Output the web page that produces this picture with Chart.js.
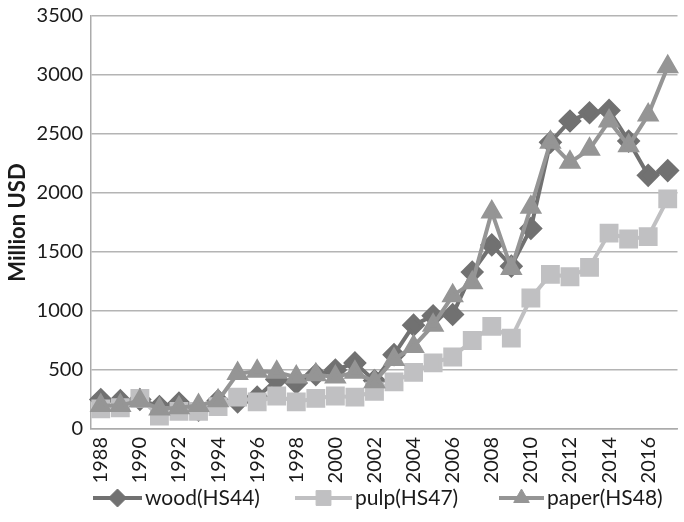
<!DOCTYPE html>
<html>
<head>
<meta charset="utf-8">
<script src="https://cdn.jsdelivr.net/npm/chart.js@4/dist/chart.umd.min.js"></script>
<style>
  body { margin: 0; overflow: hidden; background: #fff; }
  #wrap { width: 692px; height: 522px; }
</style>
</head>
<body>
<div id="wrap"><canvas id="chart"></canvas></div>
<script>
// years on the x axis
var years = [];
for (var y = 1988; y <= 2017; y++) { years.push(String(y)); }

// values in million USD
var wood  = [250, 240, 250, 190, 220, 160, 240, 230, 270, 420, 390, 460, 500, 560, 410, 630, 880, 960, 970, 1330, 1560, 1380, 1700, 2430, 2610, 2680, 2700, 2440, 2150, 2190];
var pulp  = [170, 180, 260, 110, 150, 150, 190, 270, 230, 280, 230, 260, 280, 270, 320, 400, 480, 560, 610, 750, 870, 770, 1110, 1310, 1290, 1370, 1660, 1610, 1630, 1950];
var paper = [200, 200, 240, 170, 180, 200, 240, 470, 490, 480, 440, 460, 440, 480, 400, 590, 700, 880, 1130, 1240, 1840, 1360, 1880, 2430, 2260, 2370, 2610, 2400, 2660, 3070];

var seriesNames = ["wood(HS44)", "pulp(HS47)", "paper(HS48)"];
var yMax = 3500;
var yStep = 500;

var FONT = "Lato";

// legend drawn by hand: a line with the marker on it, then the text
var lineLegend = {
    id: "lineLegend",
    afterDraw: function (chart) {
        var ctx = chart.ctx;
        var starts = [93, 295, 499];
        var lens = [49, 57, 45];
        var yy = 498;
        ctx.save();
        chart.data.datasets.forEach(function (ds, i) {
            var x0 = starts[i];
            ctx.strokeStyle = ds.borderColor;
            ctx.lineWidth = 4;
            ctx.beginPath();
            ctx.moveTo(x0, yy);
            ctx.lineTo(x0 + lens[i], yy);
            ctx.stroke();
            ctx.fillStyle = ds.pointBackgroundColor;
            ctx.strokeStyle = ds.pointBorderColor;
            ctx.lineWidth = 1;
            Chart.helpers.drawPoint(ctx, { pointStyle: ds.pointStyle, radius: ds.pointRadius, borderWidth: 1 }, x0 + lens[i] / 2, yy);
            ctx.fillStyle = "#1a1a1a";
            ctx.font = "21px " + FONT;
            ctx.textBaseline = "middle";
            ctx.textAlign = "left";
            ctx.fillText(ds.label, x0 + lens[i] + 3, yy);
        });
        ctx.restore();
    }
};

var ctx = document.getElementById("chart");
var myChart = new Chart(ctx, {
    type: "line",
    data: {
        labels: years,
        datasets: [
            {
                label: seriesNames[0], data: wood, order: 3,
                borderColor: "#717171", borderWidth: 4,
                pointStyle: "rectRot", pointRadius: 9,
                pointBackgroundColor: "#717171", pointBorderColor: "#717171",
                tension: 0
            },
            {
                label: seriesNames[1], data: pulp, order: 2,
                borderColor: "#c0c0c2", borderWidth: 4,
                pointStyle: "rect", pointRadius: 10.5,
                pointBackgroundColor: "#c0c0c2", pointBorderColor: "#c0c0c2",
                tension: 0
            },
            {
                label: seriesNames[2], data: paper, order: 1,
                borderColor: "#959595", borderWidth: 4,
                pointStyle: "triangle", pointRadius: 9,
                pointBackgroundColor: "#959595", pointBorderColor: "#959595",
                tension: 0
            }
        ]
    },
    options: {
        responsive: true,
        maintainAspectRatio: false,
        animation: false,
        layout: { padding: { top: 16, right: 1, bottom: 35, left: 0 } },
        plugins: {
            legend: { display: false },
            tooltip: { enabled: false }
        },
        scales: {
            x: {
                offset: true,
                grid: { display: false },
                border: { display: true, color: "#ababab", width: 1.5 },
                ticks: {
                    autoSkip: false,
                    minRotation: 90,
                    maxRotation: 90,
                    padding: 0,
                    color: "#1a1a1a",
                    font: { family: FONT, size: 20 },
                    callback: function (v, i) { return i % 2 === 0 ? this.getLabelForValue(v) : ""; }
                },
                afterFit: function (scale) { scale.height = 58; }
            },
            y: {
                min: 0,
                max: yMax,
                ticks: {
                    stepSize: yStep,
                    padding: 8,
                    color: "#1a1a1a",
                    font: { family: FONT, size: 20, lineHeight: 0.6 },
                    callback: function (v) { return String(v); }
                },
                grid: { color: "#b4b4b4", lineWidth: 1.5, drawTicks: false },
                border: { display: true, color: "#ababab", width: 1.5 },
                title: {
                    display: true,
                    text: "Million USD",
                    color: "#1a1a1a",
                    font: { family: FONT, size: 22, weight: "bold" },
                    padding: { top: 5, bottom: 0 }
                },
                afterFit: function (scale) { scale.width = 91; }
            }
        }
    },
    plugins: [lineLegend]
});
</script>
</body>
</html>
